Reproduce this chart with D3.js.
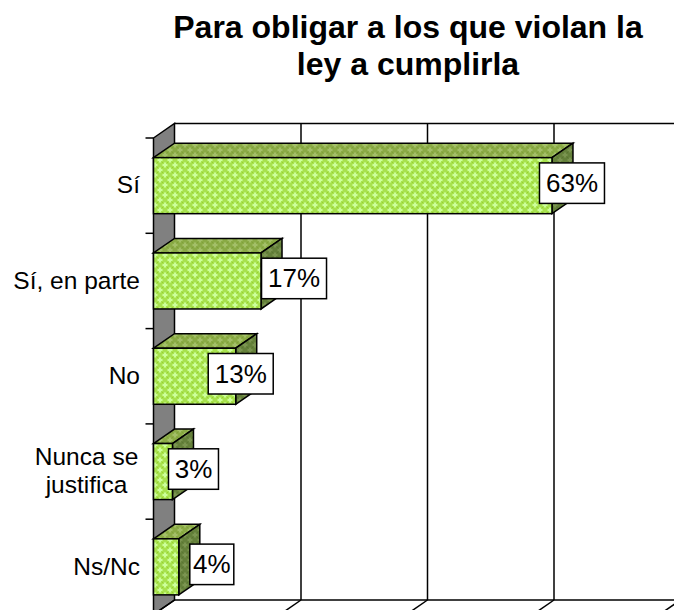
<!DOCTYPE html>
<html>
<head>
<meta charset="utf-8">
<script src="https://cdn.jsdelivr.net/npm/d3@7"></script>
<style>
body { margin: 0; background: #fff; overflow: hidden; }
text { font-family: "Liberation Sans", Arial, sans-serif; fill: #000; }
</style>
</head>
<body>
<script>
var titleLines = ["Para obligar a los que violan la", "ley a cumplirla"];
var categories = ["Sí", "Sí, en parte", "No", "Nunca se justifica", "Ns/Nc"];
var values = [63, 17, 13, 3, 4];
var valueTicks = [0, 20, 40, 60, 80];

// labels were dragged by hand in the original, so each one has its own shift
var labelShift = [20, 33, 5, 21, 33];
var labelWidth = [65, 65, 65, 50, 44];

var canvasWidth = 674;
var canvasHeight = 610;
var depthX = 21;
var depthY = -14.5;

var svg = d3.select("body").append("svg")
    .attr("width", canvasWidth)
    .attr("height", canvasHeight)
    .style("display", "block");

var x = d3.scaleLinear().domain([0, 80]).range([153.5, 659.5]);
var y = d3.scaleBand().domain(categories).range([138, 614.5]).paddingInner(0.412).paddingOuter(0.206);

function makePattern(id, bg, fg, mid, hi) {
    var p = svg.append("defs").append("pattern")
        .attr("id", id)
        .attr("patternUnits", "userSpaceOnUse")
        .attr("width", 10)
        .attr("height", 10);
    p.append("rect").attr("width", 10).attr("height", 10).attr("fill", bg);
    // halo, then the light plus at the centre and on the wrapped corner
    p.append("path").attr("d", "M2 4H8V6H2Z M4 2H6V8H4Z M0 0H3V1H0Z M0 9H3V10H0Z M7 0H10V1H7Z M7 9H10V10H7Z M0 0H1V3H0Z M9 0H10V3H9Z M0 7H1V10H0Z M9 7H10V10H9Z").attr("fill", mid);
    p.append("path").attr("d", "M3 4H7V6H3Z M4 3H6V7H4Z M0 0H2V1H0Z M8 0H10V1H8Z M0 9H2V10H0Z M8 9H10V10H8Z M0 1H1V2H0Z M9 1H10V2H9Z M0 8H1V9H0Z M9 8H10V9H9Z").attr("fill", hi);
    p.append("path").attr("d", "M2 2H3V3H2Z M7 2H8V3H7Z M2 7H3V8H2Z M7 7H8V8H7Z").attr("fill", fg);
}
makePattern("front", "#a8e24e", "#96d22e", "#bcf074", "#ccff99");
makePattern("top", "#8aab45", "#7f9f3a", "#97b656", "#a3bf68");
makePattern("side", "#64803a", "#5a7532", "#6f8a44", "#7a9450");

function poly(points) {
    return "M" + points.map(function(d) { return d.join(","); }).join("L") + "Z";
}

var x0 = x(0), yTop = y.range()[0], yBottom = y.range()[1];

// side wall
svg.append("path")
    .attr("d", poly([[x0, yTop], [x0 + depthX, yTop + depthY], [x0 + depthX, yBottom + depthY], [x0, yBottom]]))
    .attr("fill", "#808080")
    .attr("stroke", "#000")
    .attr("stroke-width", 1.5);

// back wall border and gridlines
svg.append("line")
    .attr("x1", x0 + depthX).attr("x2", canvasWidth)
    .attr("y1", yTop + depthY).attr("y2", yTop + depthY)
    .attr("stroke", "#000").attr("stroke-width", 1.5);
svg.append("line")
    .attr("x1", x0 + depthX).attr("x2", canvasWidth)
    .attr("y1", yBottom + depthY).attr("y2", yBottom + depthY)
    .attr("stroke", "#000").attr("stroke-width", 1.5);

svg.selectAll(".grid").data(valueTicks.slice(1)).enter().append("line")
    .attr("class", "grid")
    .attr("x1", function(d) { return x(d) + depthX; })
    .attr("x2", function(d) { return x(d) + depthX; })
    .attr("y1", yTop + depthY)
    .attr("y2", yBottom + depthY)
    .attr("stroke", "#000").attr("stroke-width", 1.5);

// floor diagonals
svg.selectAll(".floor").data(valueTicks).enter().append("line")
    .attr("class", "floor")
    .attr("x1", function(d) { return x(d) + depthX; })
    .attr("x2", function(d) { return x(d); })
    .attr("y1", yBottom + depthY)
    .attr("y2", yBottom)
    .attr("stroke", "#000").attr("stroke-width", 1.5);

// category ticks sit on the band edges
var tickPos = categories.map(function(d) { return y(d) - y.step() * 0.206; });
tickPos.push(yBottom);
svg.selectAll(".tick-mark").data(tickPos).enter().append("line")
    .attr("class", "tick-mark")
    .attr("x1", x0 - 8).attr("x2", x0)
    .attr("y1", function(d) { return d; })
    .attr("y2", function(d) { return d; })
    .attr("stroke", "#000").attr("stroke-width", 1.5);

// bars
var bars = svg.selectAll(".bar").data(categories).enter().append("g").attr("class", "bar");

bars.append("path")
    .attr("d", function(d, i) {
        var xe = x(values[i]), t = y(d);
        return poly([[x0, t], [x0 + depthX, t + depthY], [xe + depthX, t + depthY], [xe, t]]);
    })
    .attr("fill", "url(#top)").attr("stroke", "#000").attr("stroke-width", 1.5);

bars.append("path")
    .attr("d", function(d, i) {
        var xe = x(values[i]), t = y(d), b = t + y.bandwidth();
        return poly([[xe, t], [xe + depthX, t + depthY], [xe + depthX, b + depthY], [xe, b]]);
    })
    .attr("fill", "url(#side)").attr("stroke", "#000").attr("stroke-width", 1.5);

bars.append("rect")
    .attr("x", x0)
    .attr("y", function(d) { return y(d); })
    .attr("width", function(d, i) { return x(values[i]) - x0; })
    .attr("height", y.bandwidth())
    .attr("fill", "url(#front)").attr("stroke", "#000").attr("stroke-width", 1.5);

// value labels
var labels = svg.selectAll(".value").data(categories).enter().append("g")
    .attr("class", "value")
    .attr("transform", function(d, i) {
        return "translate(" + (x(values[i]) + labelShift[i]) + "," + (y(d) + y.bandwidth() / 2 - 2.5) + ")";
    });

labels.append("rect")
    .attr("x", function(d, i) { return -labelWidth[i] / 2; })
    .attr("y", -20.25)
    .attr("width", function(d, i) { return labelWidth[i]; })
    .attr("height", 40.5)
    .attr("fill", "#fff").attr("stroke", "#000").attr("stroke-width", 1.5);

labels.append("text")
    .attr("text-anchor", "middle")
    .attr("dy", 9)
    .attr("font-size", 26)
    .text(function(d, i) { return values[i] + "%"; });

// category labels
var axis = svg.append("g")
    .attr("transform", "translate(140,0)")
    .call(d3.axisLeft(y).tickSize(0).tickPadding(0));
axis.select(".domain").remove();
axis.selectAll("text")
    .attr("font-size", 24.5)
    .style("font-family", "'Liberation Sans', Arial, sans-serif")
    .style("fill", "#000")
    .each(function(d) {
        if (d !== "Nunca se justifica") return;
        var t = d3.select(this);
        t.text(null).attr("text-anchor", "middle").attr("dy", null);
        t.append("tspan").attr("x", -53.5).attr("dy", -6.5).text("Nunca se");
        t.append("tspan").attr("x", -53.5).attr("dy", 28).text("justifica");
    });

// title
svg.selectAll(".title").data(titleLines).enter().append("text")
    .attr("class", "title")
    .attr("text-anchor", "middle")
    .attr("x", 408)
    .attr("y", function(d, i) { return 38 + i * 37; })
    .attr("font-size", 32)
    .attr("font-weight", "bold")
    .text(function(d) { return d; });
</script>
</body>
</html>
